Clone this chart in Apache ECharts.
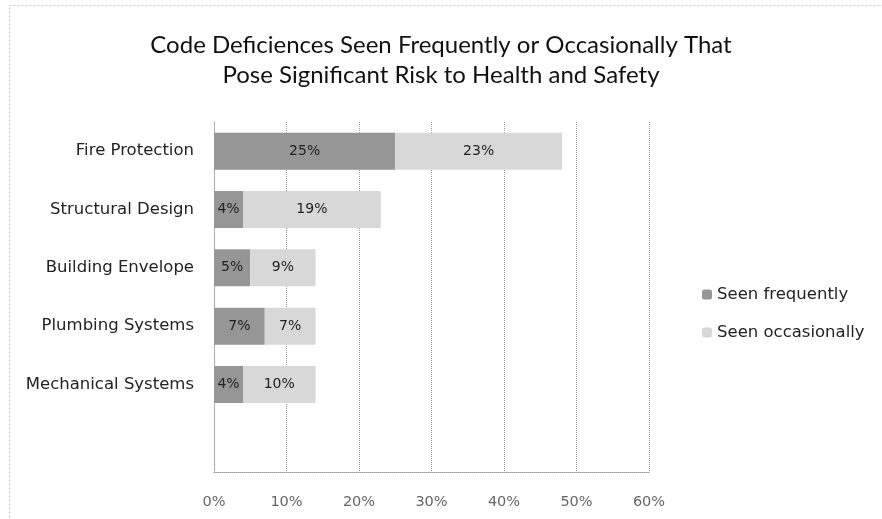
<!DOCTYPE html>
<html>
<head>
<meta charset="utf-8">
<script src="https://cdn.jsdelivr.net/npm/echarts@6/dist/echarts.min.js"></script>
<style>
  html, body { margin: 0; padding: 0; background: #fff; }
  #chart { width: 882px; height: 519px; }
</style>
</head>
<body>
<div id="chart"></div>
<script>
const categories = ['Fire Protection', 'Structural Design', 'Building Envelope', 'Plumbing Systems', 'Mechanical Systems', ''];
const seenFrequently = [25, 4, 5, 7, 4, null];
const seenOccasionally = [23, 19, 9, 7, 10, null];
const xTicks = [0, 10, 20, 30, 40, 50, 60];

const chart = echarts.init(document.getElementById('chart'));
const labelStyle = {
  show: true,
  position: 'inside',
  formatter: p => p.value + '%',
  color: '#222',
  fontFamily: 'DejaVu Sans',
  fontSize: 14
};
chart.setOption({
  animation: false,
  backgroundColor: '#fff',
  title: {
    text: 'Code Deficiences Seen Frequently or Occasionally That\nPose Significant Risk to Health and Safety',
    left: 'center',
    top: 25,
    textStyle: { fontFamily: 'Lato', fontSize: 24, fontWeight: 'normal', color: '#111', lineHeight: 30 }
  },
  graphic: [{
    type: 'rect',
    shape: { x: 9.5, y: 5.5, width: 880, height: 520 },
    style: { fill: 'none', stroke: '#c8c8c8', lineWidth: 1, lineDash: [2, 2] },
    silent: true
  }],
  legend: {
    orient: 'vertical',
    left: 697,
    top: 281,
    itemWidth: 10,
    itemHeight: 10,
    itemGap: 21,
    textStyle: { fontFamily: 'DejaVu Sans', fontSize: 16.5, color: '#222' },
    data: ['Seen frequently', 'Seen occasionally']
  },
  grid: { left: 214, right: 233, top: 122, bottom: 47, containLabel: false },
  xAxis: {
    type: 'value',
    min: xTicks[0],
    max: xTicks[xTicks.length - 1],
    interval: 10,
    axisLabel: { formatter: '{value}%', fontFamily: 'DejaVu Sans', fontSize: 14.5, color: '#666', margin: 23 },
    axisLine: { show: true, lineStyle: { color: '#999', type: 'dotted' } },
    axisTick: { show: false },
    splitLine: { show: true, lineStyle: { color: '#999', type: 'dotted' } }
  },
  yAxis: {
    type: 'category',
    inverse: true,
    data: categories,
    axisLabel: { fontFamily: 'DejaVu Sans', fontSize: 16.5, color: '#222', margin: 20 },
    axisLine: { show: true, lineStyle: { color: '#999', type: 'dotted' } },
    axisTick: { show: false }
  },
  series: [
    {
      name: 'Seen frequently',
      type: 'bar',
      stack: 'total',
      barWidth: 37,
      data: seenFrequently,
      itemStyle: { color: '#969696' },
      label: labelStyle
    },
    {
      name: 'Seen occasionally',
      type: 'bar',
      stack: 'total',
      barWidth: 37,
      data: seenOccasionally,
      itemStyle: { color: '#d8d8d8' },
      label: labelStyle
    }
  ]
});
</script>
</body>
</html>
